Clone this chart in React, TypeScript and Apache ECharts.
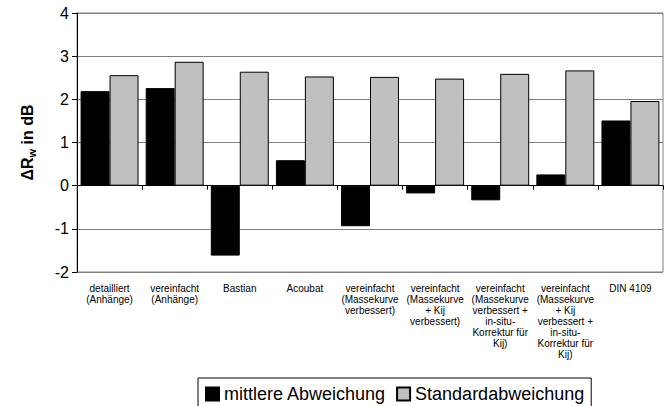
import React, { useEffect, useRef } from "react";
import * as echarts from "echarts";

const categories: string[] = [
  "detailliert\n(Anhänge)",
  "vereinfacht\n(Anhänge)",
  "Bastian",
  "Acoubat",
  "vereinfacht\n(Massekurve\nverbessert)",
  "vereinfacht\n(Massekurve\n+ Kij\nverbessert)",
  "vereinfacht\n(Massekurve\nverbessert +\nin-situ-\nKorrektur für\nKij)",
  "vereinfacht\n(Massekurve\n+ Kij\nverbessert +\nin-situ-\nKorrektur für\nKij)",
  "DIN 4109",
];

const mittlereAbweichung: number[] = [2.19, 2.26, -1.62, 0.59, -0.94, -0.18, -0.34, 0.26, 1.51];
const standardAbweichung: number[] = [2.56, 2.87, 2.64, 2.53, 2.52, 2.48, 2.59, 2.67, 1.96];

const seriesNames: string[] = ["mittlere Abweichung", "Standardabweichung"];

const FONT = "Liberation Sans";

export default function App() {
  const ref = useRef<HTMLDivElement>(null);

  useEffect(() => {
    if (!ref.current) return;
    const chart = echarts.init(ref.current, null, { renderer: "svg" });
    chart.setOption({
      animation: false,
      backgroundColor: "#ffffff",
      textStyle: { fontFamily: FONT },
      grid: {
        left: 77,
        right: 5,
        top: 13,
        bottom: 134,
        show: true,
        borderColor: "#808080",
        borderWidth: 1,
        containLabel: false,
      },
      legend: {
        data: seriesNames,
        left: 198,
        top: 378,
        orient: "horizontal",
        padding: [7, 7, 7, 7],
        itemWidth: 13,
        itemHeight: 13,
        itemGap: 10,
        borderColor: "#000000",
        borderWidth: 1,
        icon: "rect",
        textStyle: { fontSize: 18, color: "#000000", fontFamily: FONT },
      },
      xAxis: [
        {
          type: "category",
          data: categories,
          position: "bottom",
          axisLine: { show: true, onZero: true, lineStyle: { color: "#000000", width: 1 } },
          axisTick: { show: true, interval: 0, length: 4, lineStyle: { color: "#000000" } },
          axisLabel: { show: false },
          splitLine: { show: false },
        },
        {
          type: "category",
          data: categories,
          position: "bottom",
          axisLine: { show: false, onZero: false },
          axisTick: { show: false },
          splitLine: { show: false },
          axisLabel: {
            show: true,
            interval: 0,
            margin: 11,
            fontSize: 10,
            lineHeight: 11,
            color: "#000000",
            fontFamily: FONT,
            verticalAlign: "top",
          },
        },
      ],
      yAxis: {
        type: "value",
        min: -2,
        max: 4,
        interval: 1,
        name: "{a|ΔR}{s|w}{a| in dB}",
        nameLocation: "middle",
        nameGap: 40,
        nameRotate: 90,
        nameTextStyle: {
          rich: {
            a: { fontSize: 16, fontWeight: "bold", color: "#000000", fontFamily: FONT, lineHeight: 20 },
            s: {
              fontSize: 11,
              fontWeight: "bold",
              color: "#000000",
              fontFamily: FONT,
              lineHeight: 20,
              verticalAlign: "bottom",
              padding: [6, 0, 0, 0],
            },
          },
        },
        axisLine: { show: true, lineStyle: { color: "#000000", width: 1 } },
        axisTick: { show: true, length: 5, lineStyle: { color: "#000000" } },
        axisLabel: { fontSize: 16, color: "#000000", margin: 8, fontFamily: FONT },
        splitLine: { show: true, lineStyle: { color: "#808080", width: 1 } },
      },
      series: [
        {
          name: seriesNames[0],
          type: "bar",
          xAxisIndex: 0,
          data: mittlereAbweichung,
          barGap: "0%",
          barCategoryGap: "11%",
          itemStyle: { color: "#000000", borderColor: "#000000", borderWidth: 1 },
        },
        {
          name: seriesNames[1],
          type: "bar",
          xAxisIndex: 0,
          data: standardAbweichung,
          barGap: "0%",
          barCategoryGap: "11%",
          itemStyle: { color: "#c0c0c0", borderColor: "#000000", borderWidth: 1 },
        },
      ],
    });
    return () => chart.dispose();
  }, []);

  return (
    <div
      ref={ref}
      style={{ position: "absolute", left: 0, top: 0, width: 668, height: 406 }}
    />
  );
}
